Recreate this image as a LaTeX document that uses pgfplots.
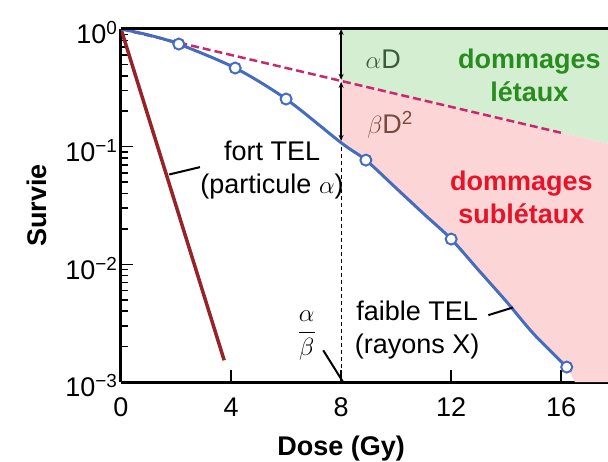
\documentclass[border=0pt]{standalone}
\usepackage{fontspec}
\setmainfont{Liberation Sans}
\setsansfont{Liberation Sans}
\usepackage{pgfplots}
\pgfplotsset{compat=1.18}
\usetikzlibrary{arrows.meta}

\definecolor{courbe}{RGB}{70,108,190}
\definecolor{alpharouge}{RGB}{150,35,40}
\definecolor{tirets}{RGB}{200,40,110}
\definecolor{fondvert}{RGB}{212,238,210}
\definecolor{fondrose}{RGB}{252,214,214}
\definecolor{txtvert}{RGB}{40,140,30}
\definecolor{txtrouge}{RGB}{230,20,40}
\definecolor{txtaD}{RGB}{60,90,60}
\definecolor{txtbD}{RGB}{120,75,60}

\newcommand{\gros}{\fontsize{27}{33}\selectfont}

\begin{document}
\begin{tikzpicture}
\begin{axis}[
  scale only axis,
  width=487pt, height=353pt,
  xmin=0, xmax=17.7,
  ymin=1e-3, ymax=1,
  ymode=log,
  axis x line*=bottom, axis y line*=left,
  axis line style={-, line width=3pt},
  tick align=inside,
  major tick length=12pt, minor tick length=7pt,
  every tick/.style={black, line width=1.5pt},
  xtick={0,4,8,12,16},
  xticklabels={0,4,8,12,16},
  ytick={1e-3,1e-2,1e-1,1},
  yticklabels={10\textsuperscript{−3},10\textsuperscript{−2},10\textsuperscript{−1},10\textsuperscript{0}},
  tick label style={font=\gros},
  yticklabel style={yshift=-4pt},
  xticklabel style={yshift=-12pt},
  xlabel={\textbf{Dose (Gy)}},
  ylabel={\textbf{Survie}},
  label style={font=\gros},
  xlabel style={at={(ticklabel cs:0.452)}, yshift=-12pt},
  ylabel style={yshift=12pt},
]
% zone des dommages letaux
\addplot[draw=none, fill=fondvert] coordinates {
  (8,1) (17.7,1) (17.7,0.106) (8,0.363)} -- cycle;
% zone des dommages subletaux
\addplot[draw=none, fill=fondrose] coordinates {
  (8,0.363) (17.7,0.106) (17.7,0.001) (16.5,0.001) (16.2,0.00134)
  (15,0.00256) (14,0.00485) (13,0.0089) (12,0.0164) (11,0.0269)
  (10,0.0444) (8.9,0.0769) (8,0.108)} -- cycle;

% composante lineaire
\addplot[tirets, line width=2.5pt, dash pattern=on 8pt off 4pt] coordinates {
  (0,1) (16.07,0.13)};

% fort TEL
\addplot[alpharouge, line width=3.5pt] coordinates {(0,1) (3.75,0.00153)};

% faible TEL
\addplot[courbe, line width=3pt, smooth] coordinates {
  (0,1) (1,0.89) (2.1,0.745) (4.15,0.466) (6,0.254) (8,0.108) (8.9,0.0769)
  (10,0.0444) (11,0.0269) (12,0.0164) (13,0.0089) (14,0.00485)
  (15,0.00256) (16.2,0.00134)};
\addplot[only marks, mark=*, mark size=5.5pt,
  mark options={fill=white, draw=courbe, line width=2pt}] coordinates {
  (2.1,0.745) (4.15,0.466) (6,0.254) (8.9,0.0769) (12,0.0164) (16.2,0.00134)};

% reperes a D = 8 Gy
\draw[line width=1.5pt, {Stealth[length=6pt,width=5pt]}-{Stealth[length=6pt,width=5pt]}]
  (axis cs:8,1) -- (axis cs:8,0.37);
\draw[line width=1.5pt, {Stealth[length=6pt,width=5pt]}-{Stealth[length=6pt,width=5pt]}]
  (axis cs:8,0.355) -- (axis cs:8,0.112);
\draw[line width=1pt, dash pattern=on 4pt off 3pt] (axis cs:8,0.1) -- (axis cs:8,0.001);

% traits de rappel
\draw[line width=2pt] (axis cs:2.87,0.067) -- (axis cs:1.75,0.058);
\draw[line width=2pt] (axis cs:13.35,0.0037) -- (axis cs:14.25,0.0043);
\draw[line width=2pt] (axis cs:7.35,0.00186) -- (axis cs:8.07,0.001);

% textes
\node[font=\gros, align=center] at (axis cs:5.49,0.0632) {fort TEL\\(particule $\alpha$)};
\node[font=\gros, align=center] at (axis cs:10.76,0.00275) {faible TEL\\(rayons X)};
\node[font=\gros] at (axis cs:6.75,0.0025) {$\displaystyle\frac{\alpha}{\beta}$};
\node[font=\gros, text=txtaD] at (axis cs:9.53,0.556) {$\alpha$D};
\node[font=\gros, text=txtbD] at (axis cs:9.78,0.153) {$\beta$D\textsuperscript{2}};
\node[font=\gros\bfseries, text=txtvert, align=center] at (axis cs:14.84,0.406) {dommages\\létaux};
\node[font=\gros\bfseries, text=txtrouge, align=center] at (axis cs:14.55,0.0373) {dommages\\sublétaux};

\coordinate (O) at (rel axis cs:0,0);
\end{axis}
\draw[line width=3pt] (O) ++(0,353pt) -- ++(487pt,0);
\pgfresetboundingbox
\path (O) ++(-121pt,-79pt) rectangle ++(608pt,461pt);
\end{tikzpicture}
\end{document}
